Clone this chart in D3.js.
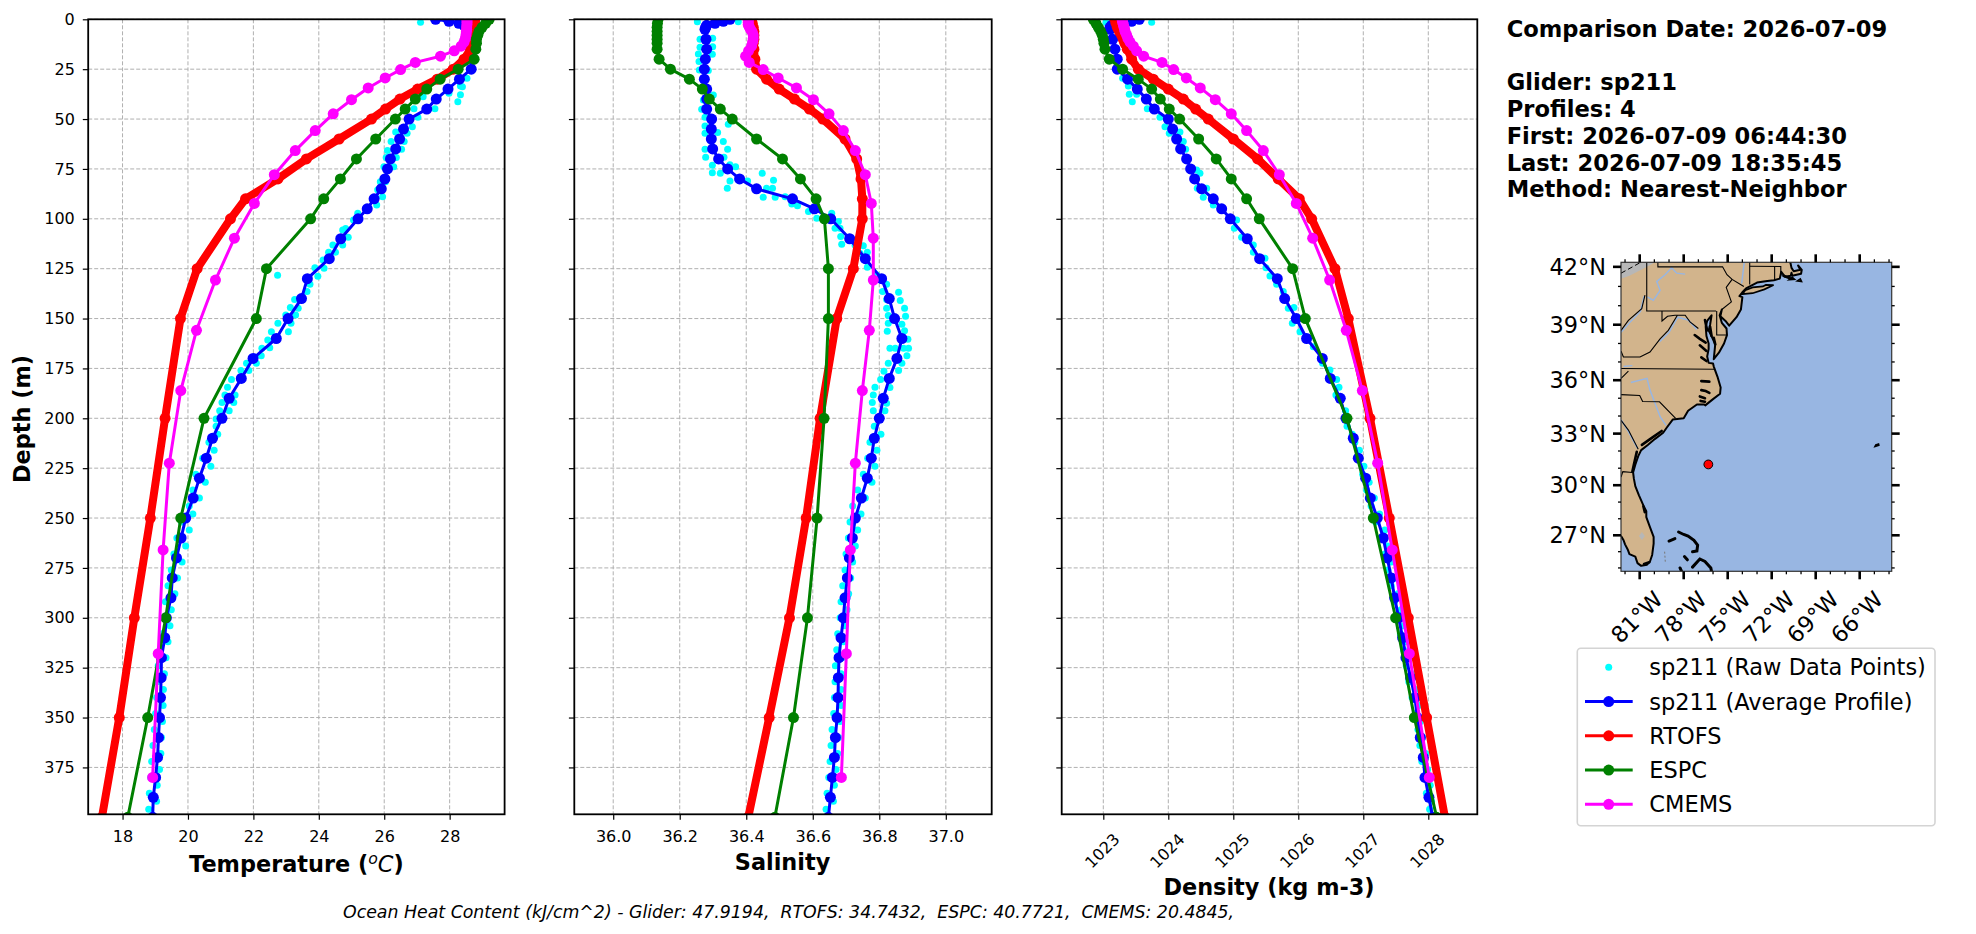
<!DOCTYPE html>
<html>
<head>
<meta charset="utf-8">
<script src="https://cdn.jsdelivr.net/npm/d3@7"></script>
<style>
  html, body { margin: 0; padding: 0; background: #fff; }
  svg { display: block; }
  text { font-family: "DejaVu Sans", sans-serif; fill: #000; }
</style>
</head>
<body>
<div id="chart"></div>
<script>
// Glider average profile
const depthGlider = [0,1,2,3,4,5,10,15,20,25,30,35,40,45,50,55,60,65,70,75,80,85,90,95,100,110,120,130,140,150,160,170,180,190,200,210,220,230,240,250,260,270,280,290,300,310,320,330,340,350,360,370,380,390,400];
const tempGlider = [27.57,27.98,28.28,28.44,28.55,28.66,28.77,28.77,28.71,28.66,28.30,27.95,27.59,27.30,26.76,26.59,26.47,26.35,26.19,26.10,26.02,25.91,25.69,25.48,25.20,24.67,24.32,23.65,23.47,23.06,22.70,21.99,21.63,21.26,21.04,20.75,20.56,20.35,20.16,19.93,19.79,19.65,19.52,19.48,19.34,19.29,19.19,19.18,19.16,19.13,19.10,19.07,19.01,18.94,18.92];
const salGlider = [36.351,36.331,36.306,36.281,36.278,36.276,36.279,36.281,36.277,36.274,36.274,36.281,36.281,36.281,36.296,36.295,36.295,36.299,36.317,36.344,36.380,36.431,36.539,36.605,36.654,36.711,36.758,36.807,36.830,36.846,36.868,36.853,36.830,36.812,36.800,36.785,36.776,36.764,36.746,36.728,36.719,36.710,36.704,36.697,36.692,36.685,36.679,36.677,36.676,36.673,36.668,36.665,36.659,36.653,36.647];
const densGlider = [1023.554,1023.436,1023.256,1023.128,1023.103,1023.103,1023.144,1023.179,1023.215,1023.215,1023.374,1023.523,1023.662,1023.785,1024.0,1024.067,1024.128,1024.19,1024.282,1024.344,1024.405,1024.513,1024.692,1024.821,1024.954,1025.215,1025.405,1025.677,1025.79,1025.969,1026.128,1026.369,1026.492,1026.646,1026.733,1026.846,1026.923,1027.036,1027.108,1027.215,1027.308,1027.369,1027.431,1027.482,1027.544,1027.605,1027.656,1027.728,1027.795,1027.831,1027.877,1027.923,1027.949,1028.01,1028.067];

// RTOFS and ESPC share standard levels
const depthModel = [0,2,4,6,8,10,12,15,20,25,30,35,40,45,50,60,70,80,90,100,125,150,200,250,300,350,400];
const tempRtofs = [28.77,28.77,28.76,28.75,28.73,28.71,28.68,28.64,28.44,28.11,27.62,27.02,26.48,26.04,25.61,24.62,23.62,22.75,21.76,21.30,20.28,19.77,19.30,18.85,18.36,17.90,17.37];
const salRtofs = [36.416,36.418,36.421,36.423,36.423,36.423,36.421,36.423,36.426,36.431,36.461,36.499,36.545,36.590,36.630,36.697,36.732,36.745,36.749,36.749,36.722,36.672,36.622,36.580,36.530,36.469,36.406];
const densRtofs = [1023.179,1023.195,1023.215,1023.246,1023.282,1023.308,1023.333,1023.369,1023.436,1023.538,1023.769,1024.0,1024.231,1024.421,1024.615,1025.0,1025.374,1025.692,1026.015,1026.205,1026.564,1026.769,1027.103,1027.4,1027.692,1027.974,1028.256];
const tempEspc = [29.21,29.10,28.99,28.90,28.86,28.82,28.82,28.80,28.75,28.26,27.71,27.30,26.95,26.64,26.34,25.74,25.15,24.66,24.15,23.75,22.40,22.09,20.49,19.78,19.32,18.77,18.16];
const salEspc = [36.135,36.133,36.132,36.132,36.132,36.132,36.132,36.132,36.138,36.172,36.229,36.268,36.289,36.322,36.358,36.431,36.509,36.563,36.610,36.635,36.647,36.647,36.634,36.613,36.584,36.542,36.486];
const densEspc = [1022.846,1022.887,1022.923,1022.959,1022.985,1023.0,1023.01,1023.026,1023.092,1023.297,1023.538,1023.744,1023.877,1024.015,1024.174,1024.467,1024.738,1024.969,1025.205,1025.4,1025.913,1026.108,1026.749,1027.154,1027.497,1027.785,1028.128];

// CMEMS levels
const depthCmems = [0.5,1.5,2.6,3.8,5.1,6.4,7.9,9.6,11.4,13.5,15.8,18.5,21.6,25.2,29.4,34.4,40.3,47.4,55.8,65.8,77.9,92.3,109.7,130.7,155.9,186.1,222.5,266,318,380];
const tempCmems = [28.53,28.53,28.53,28.52,28.52,28.51,28.50,28.48,28.44,28.35,28.14,27.72,26.95,26.50,26.03,25.51,25.00,24.44,23.89,23.28,22.64,22.03,21.42,20.84,20.26,19.78,19.43,19.24,19.09,18.92];
const salCmems = [36.406,36.406,36.406,36.409,36.413,36.418,36.421,36.421,36.419,36.416,36.407,36.398,36.409,36.451,36.496,36.551,36.602,36.649,36.692,36.728,36.758,36.776,36.782,36.782,36.770,36.749,36.728,36.713,36.701,36.686];
const densCmems = [1023.292,1023.297,1023.308,1023.318,1023.328,1023.338,1023.359,1023.379,1023.41,1023.462,1023.513,1023.621,1023.903,1024.082,1024.277,1024.492,1024.723,1024.969,1025.205,1025.462,1025.708,1025.969,1026.221,1026.482,1026.738,1026.985,1027.221,1027.446,1027.708,1028.015];

// Raw glider samples, [depth, value], upper 200 m
const rawTempTop = [[1.5,27.11],[29.6,28.53],[33.4,28.33],[33.8,28.39],[37.1,27.98],[37.8,28.33],[41.3,28.25],[38.8,27.19],[44.9,27.55],[44.9,26.91],[49.1,27.03],[53.8,26.86],[56.5,26.35],[57.1,26.70],[61.2,26.21],[61.2,26.61],[65.8,26.10],[65.2,26.53],[69.3,26.06],[69.3,26.37],[73.9,25.99],[73.9,26.29],[81.4,25.88],[81.4,26.04],[85.5,25.80],[88.9,25.95],[89.7,25.74],[93.1,25.77],[97.2,25.19],[100.6,25.06],[104.9,24.82],[105.6,24.73],[109.3,24.90],[113.1,24.43],[113.1,24.73],[116.8,24.30],[116.8,24.51],[120.6,24.13],[124.5,23.88],[124.8,24.16],[128.3,22.74],[128.8,23.97],[132.8,23.73],[136.5,23.64],[140.4,23.26],[144.4,23.13],[144.9,23.37],[148.2,22.99],[148.2,23.29],[152.4,22.75],[152.4,23.15],[156.6,22.55],[156.6,23.07],[160.7,22.44],[164.9,22.26],[164.6,22.50],[168.6,22.24],[172.4,21.79],[172.4,22.09],[176.1,21.62],[176.1,21.86],[180.5,21.33],[184.5,21.21],[188.3,21.13],[188.3,21.44],[192.1,21.04],[192.1,21.40],[196.2,20.97],[196.2,21.26],[200.3,20.86]];
const rawSalTop = [[1.2,36.253],[1.2,36.376],[9.5,36.299],[10,36.261],[14,36.261],[13.7,36.299],[17.5,36.298],[17.4,36.256],[21.2,36.258],[25.4,36.259],[25.7,36.286],[37.9,36.301],[40.4,36.271],[45.1,36.266],[49.1,36.276],[52.6,36.346],[53.5,36.276],[56.8,36.314],[57.1,36.276],[61.2,36.331],[65.2,36.344],[65.2,36.276],[69.2,36.278],[69.2,36.333],[73.2,36.298],[72.9,36.351],[73.9,36.368],[76.9,36.298],[77.2,36.322],[77.2,36.448],[81,36.351],[81,36.404],[80.7,36.482],[84.7,36.343],[84.7,36.461],[84.7,36.479],[89.2,36.451],[89.2,36.487],[88.9,36.517],[92.6,36.537],[93.4,36.554],[96.4,36.587],[99.7,36.612],[97.2,36.657],[101.4,36.677],[104.8,36.667],[104.8,36.682],[108.9,36.684],[112.8,36.687],[113.1,36.727],[113.5,36.752],[117.3,36.742],[116.8,36.764],[124.3,36.764],[128.2,36.792],[132.8,36.822],[136.5,36.810],[136.8,36.858],[140.4,36.822],[140.9,36.863],[144.9,36.822],[144.9,36.876],[148.5,36.827],[148.9,36.879],[152.4,36.827],[152.9,36.868],[156.4,36.824],[156.1,36.876],[160.4,36.886],[164.9,36.832],[164.9,36.848],[164.9,36.873],[164.9,36.888],[168.6,36.883],[172.4,36.827],[172.4,36.868],[176.4,36.814],[176.1,36.858],[180.5,36.804],[184.5,36.787],[184.6,36.832],[188.3,36.782],[192.1,36.779],[192.5,36.822],[196.2,36.782],[196.2,36.817]];
const rawDensTop = [[1.5,1023.744],[1.5,1023.041],[29.6,1023.297],[33.4,1023.385],[37.6,1023.4],[37.6,1023.513],[41.3,1023.446],[44.9,1023.677],[49.1,1023.872],[53.8,1023.949],[57.1,1024.015],[56.5,1024.179],[61.2,1024.231],[65.2,1024.267],[75.5,1024.436],[77.2,1024.487],[84.7,1024.446],[84.7,1024.590],[89.2,1024.538],[93.1,1024.692],[100.6,1025.051],[104.8,1025.015],[109.3,1025.128],[113.1,1025.308],[116.8,1025.308],[119.8,1025.487],[124.5,1025.503],[128.7,1025.564],[132.8,1025.667],[136.5,1025.769],[144.4,1025.933],[144.9,1025.846],[152.4,1025.908],[156.6,1026.026],[164.1,1026.231],[172.4,1026.374],[175.8,1026.487],[180.5,1026.590],[184.5,1026.626],[188.3,1026.579],[196.2,1026.728]];

// Raw glider samples below 200 m
const rawDepthDeep = [204,208,212,216,220,224,228,232,236,240,244,248,252,256,260,264,268,272,276,280,284,288,292,296,300,304,308,312,316,320,324,328,332,336,340,344,348,352,356,360,364,368,372,376,380,384,388,392,396];
const rawTempDeep = [20.86,20.91,20.64,20.80,20.45,20.70,20.24,20.53,20.15,20.35,20.04,20.15,19.80,20.04,19.66,19.93,19.57,19.82,19.49,19.68,19.39,19.60,19.31,19.49,19.28,19.45,19.19,19.39,19.15,19.33,19.09,19.28,19.06,19.25,19.04,19.24,19.01,19.22,18.97,19.19,18.93,19.17,18.89,19.13,18.86,19.06,18.82,19.04,18.80];
const rawSalDeep = [36.785,36.805,36.772,36.793,36.765,36.787,36.752,36.778,36.735,36.758,36.720,36.745,36.712,36.735,36.707,36.728,36.700,36.720,36.697,36.714,36.690,36.708,36.685,36.703,36.682,36.697,36.675,36.693,36.672,36.688,36.668,36.685,36.667,36.685,36.665,36.685,36.663,36.682,36.658,36.678,36.655,36.675,36.652,36.670,36.648,36.665,36.643,36.662,36.640];
const rawDensDeep = [1026.75,1026.83,1026.87,1026.94,1026.91,1027.01,1026.99,1027.09,1027.05,1027.17,1027.12,1027.25,1027.19,1027.33,1027.27,1027.37,1027.33,1027.43,1027.38,1027.49,1027.43,1027.53,1027.48,1027.58,1027.52,1027.61,1027.57,1027.66,1027.62,1027.70,1027.66,1027.75,1027.70,1027.80,1027.75,1027.85,1027.80,1027.88,1027.84,1027.91,1027.87,1027.96,1027.90,1027.99,1027.93,1028.03,1027.97,1028.05,1028.02];

// Axis ticks
const depthTicks = [0,25,50,75,100,125,150,175,200,225,250,275,300,325,350,375];
const tempTicks = [18,20,22,24,26,28];
const salTicks = [36.0,36.2,36.4,36.6,36.8,37.0];
const densTicks = [1023,1024,1025,1026,1027,1028];

// Text
const legendLabels = ["sp211 (Raw Data Points)","sp211 (Average Profile)","RTOFS","ESPC","CMEMS"];
const infoLines = ["Comparison Date: 2026-07-09","","Glider: sp211","Profiles: 4","First: 2026-07-09 06:44:30","Last: 2026-07-09 18:35:45","Method: Nearest-Neighbor"];
const footerText = "Ocean Heat Content (kJ/cm^2) - Glider: 47.9194,  RTOFS: 34.7432,  ESPC: 40.7721,  CMEMS: 20.4845,";

// Map geography, lon/lat
const lonTicks = [-81,-78,-75,-72,-69,-66];
const latTicks = [27,30,33,36,39,42];
const gliderPos = [-76.32,31.22];
const coast = [[-83,27.0],[-82.27,26.95],[-82.1,26.7],[-82.0,26.45],[-81.8,26.1],[-81.7,25.85],[-81.3,25.7],[-81.15,25.3],[-80.9,25.13],[-80.5,25.2],[-80.3,25.4],[-80.15,25.8],[-80.05,26.5],[-80.05,26.9],[-80.3,27.5],[-80.55,28.1],[-80.55,28.45],[-80.75,28.8],[-81.05,29.4],[-81.3,29.95],[-81.4,30.4],[-81.45,30.75],[-81.3,31.2],[-81.1,31.7],[-80.9,32.05],[-80.45,32.35],[-79.95,32.7],[-79.4,33.05],[-79.15,33.35],[-78.75,33.8],[-78.0,33.88],[-77.7,34.3],[-77.1,34.65],[-76.6,34.65],[-76.53,34.6],[-76.0,34.95],[-75.52,35.25],[-75.48,35.6],[-75.7,36.2],[-75.95,36.75],[-76.0,36.92],[-76.3,36.95],[-76.4,37.3],[-76.3,37.7],[-76.3,38.0],[-76.45,38.4],[-76.5,38.9],[-76.4,39.2],[-76.1,39.5],[-76.2,39.0],[-76.3,38.7],[-76.05,38.3],[-75.85,37.95],[-75.95,37.15],[-75.6,37.5],[-75.25,38.0],[-75.05,38.45],[-75.08,38.8],[-75.4,39.1],[-75.55,39.5],[-75.4,39.8],[-75.5,39.45],[-75.15,39.2],[-74.9,38.95],[-74.4,39.4],[-74.1,39.8],[-74.0,40.45],[-74.2,40.5],[-74.0,40.7],[-73.75,40.9],[-73.0,41.2],[-72.3,41.28],[-71.85,41.32],[-71.45,41.4],[-71.35,41.75],[-71.1,41.5],[-70.7,41.55],[-70.65,41.7],[-70.6,41.55],[-70.0,41.65],[-69.95,41.85],[-70.2,42.07],[-70.05,41.85],[-70.5,41.78],[-70.65,41.95],[-70.75,42.3],[-83,42.3]];
const longIsland = [[-74.0,40.6],[-73.3,40.65],[-72.5,40.85],[-71.87,41.07],[-72.4,41.08],[-72.6,41.0],[-73.3,40.95],[-73.8,40.8]];
const vineyard = [[-70.8,41.35],[-70.45,41.37],[-70.6,41.47]];
const nantucket = [[-70.25,41.28],[-69.97,41.25],[-70.05,41.38]];
const bermuda = [[-64.95,32.27],[-64.7,32.33],[-64.72,32.4],[-64.9,32.35]];
const lakeErie = [[-83,42.3],[-79.8,42.3],[-80.5,42.0],[-81.7,41.55],[-83,41.2]];
const okeechobee = [[-80.85,27.2],[-80.65,26.95],[-80.85,26.72],[-81.05,26.95]];
const canadaLine = [[-82.27,41.68],[-81.0,42.2]];
const stateLines = [
  [[-80.52,42.3],[-80.52,39.72],[-75.79,39.72]],
  [[-79.76,42.3],[-79.76,42.0],[-75.35,42.0],[-75.05,41.6],[-74.7,41.36],[-73.9,41.0]],
  [[-74.7,41.36],[-75.1,40.95],[-74.75,40.2],[-75.4,39.8]],
  [[-73.5,42.3],[-73.5,41.1]],[[-73.5,42.03],[-71.38,42.02],[-71.38,41.55]],[[-71.8,42.03],[-71.8,41.32]],
  [[-75.75,39.72],[-75.75,38.45],[-75.05,38.45]],
  [[-79.48,39.72],[-79.48,39.2],[-79.1,39.45],[-78.6,39.5],[-77.9,39.5],[-77.57,39.15],[-77.0,38.8]],
  [[-82.27,37.59],[-82.11,37.27],[-80.98,37.27],[-80.3,37.54],[-79.61,38.25],[-79.05,38.7],[-78.43,39.5]],
  [[-82.27,38.7],[-81.77,39.23],[-80.86,39.85],[-80.64,40.55]],
  [[-82.27,36.64],[-75.87,36.6]],[[-82.27,36.1],[-81.77,36.5]],
  [[-82.27,35.2],[-81.0,35.15],[-80.8,34.82],[-79.65,34.8],[-78.55,33.86]],
  [[-82.27,33.75],[-81.77,33.2],[-81.1,32.1]],
  [[-82.27,30.48],[-82.15,30.8],[-81.5,30.75]]
];
const rivers = [
  [[-77.9,41.63],[-78.48,41.68],[-78.82,41.95],[-79.27,41.6],[-79.84,41.25],[-79.61,40.8],[-80.07,40.28],[-80.48,40.46]],
  [[-73.86,42.3],[-74.05,41.16]],
  [[-82.27,38.6],[-81.7,39.1],[-80.95,39.7],[-80.7,40.5]],
  [[-79.65,38.1],[-79.0,38.6],[-78.4,39.4],[-77.7,39.25],[-77.1,38.75]],
  [[-81.6,35.87],[-80.5,36.1],[-80.3,35.45],[-79.95,34.7],[-79.6,33.95],[-79.2,33.47]],
  [[-82.27,33.8],[-81.8,33.15],[-81.15,32.15]],
  [[-82.1,36.75],[-81.5,36.8]]
];
const inlets = [
  [[-77.25,38.45],[-76.9,38.25],[-76.5,38.05]],[[-76.9,37.9],[-76.45,37.6]],[[-76.8,37.25],[-76.45,37.05]],
  [[-76.55,39.25],[-76.4,38.7]],[[-76.2,38.9],[-76.1,38.4]],[[-75.95,38.3],[-75.85,37.95]],
  [[-76.8,35.95],[-76.25,35.92]],[[-76.8,35.45],[-76.5,35.4],[-76.25,35.3]],[[-76.9,35.1],[-76.55,35.0]],[[-76.85,34.85],[-76.55,34.8]],
  [[-71.2,41.55],[-70.75,41.42]],
  [[-81.2,31.95],[-81.4,31.2],[-81.5,30.8]],[[-80.85,32.35],[-80.1,32.8],[-79.5,33.15]],[[-80.75,28.75],[-80.65,28.4]],[[-80.7,25.25],[-80.35,25.35]]
];
const bahamas = [
  [[-79.0,26.65],[-78.6,26.8]],
  [[-78.35,27.2],[-78.0,27.05],[-77.7,26.95],[-77.3,26.7],[-77.05,26.4],[-77.1,26.05],[-77.4,26.0]],
  [[-78.25,25.0],[-78.15,24.8]],[[-77.95,25.7],[-77.75,25.5]],
  [[-77.4,25.05],[-76.9,25.55],[-76.55,25.4],[-76.15,25.0],[-76.1,24.77]]
];
const bimini = [[-79.3,26.0],[-79.25,25.3]];

const width = 1976;
const height = 934;
const plotTop = 19.3;
const plotBottom = 814.3;

const svg = d3.select("#chart").append("svg")
    .attr("width", width)
    .attr("height", height)
    .style("background", "#fff");

const yScale = d3.scaleLinear().domain([0, 398.5]).range([plotTop, plotBottom]);

// One profile panel
function drawPanel(id, left, right, domain, ticks, format, series, rawTop, rawDeep, showDepth, rotate) {
    const xScale = d3.scaleLinear().domain(domain).range([left, right]);
    const g = svg.append("g").attr("id", id);

    g.append("clipPath").attr("id", "clip-" + id)
        .append("rect")
        .attr("x", left).attr("y", plotTop)
        .attr("width", right - left).attr("height", plotBottom - plotTop);

    // grid
    g.selectAll(".gridx").data(ticks).enter().append("line")
        .attr("x1", function(d) { return xScale(d); })
        .attr("x2", function(d) { return xScale(d); })
        .attr("y1", plotTop).attr("y2", plotBottom)
        .attr("stroke", "#b0b0b0").attr("stroke-width", 1).attr("stroke-dasharray", "4,2");
    g.selectAll(".gridy").data(depthTicks).enter().append("line")
        .attr("y1", function(d) { return yScale(d); })
        .attr("y2", function(d) { return yScale(d); })
        .attr("x1", left).attr("x2", right)
        .attr("stroke", "#b0b0b0").attr("stroke-width", 1).attr("stroke-dasharray", "4,2");

    const plot = g.append("g").attr("clip-path", "url(#clip-" + id + ")");

    let raw = rawTop.concat(rawDepthDeep.map(function(d, i) { return [d, rawDeep[i]]; }));
    plot.selectAll(".raw").data(raw).enter().append("circle")
        .attr("cx", function(d) { return xScale(d[1]); })
        .attr("cy", function(d) { return yScale(d[0]); })
        .attr("r", 3.5)
        .attr("fill", "#00ffff");

    series.forEach(function(s) {
        let pts = s.depth.map(function(d, i) { return [d, s.values[i]]; });
        plot.append("path").datum(pts)
            .attr("fill", "none")
            .attr("stroke", s.color)
            .attr("stroke-width", s.lw)
            .attr("stroke-linejoin", "round")
            .attr("d", d3.line()
                .x(function(d) { return xScale(d[1]); })
                .y(function(d) { return yScale(d[0]); }));
        plot.selectAll(".m").data(pts).enter().append("circle")
            .attr("cx", function(d) { return xScale(d[1]); })
            .attr("cy", function(d) { return yScale(d[0]); })
            .attr("r", 5.5)
            .attr("fill", s.color);
    });

    // axes
    const xAxis = g.append("g")
        .attr("transform", "translate(0," + plotBottom + ")")
        .call(d3.axisBottom(xScale).tickValues(ticks).tickFormat(format).tickSize(5.4).tickPadding(10.8));
    const yAxis = g.append("g")
        .attr("transform", "translate(" + left + ",0)")
        .call(d3.axisLeft(yScale).tickValues(depthTicks).tickSize(5.4).tickPadding(8));
    if (!showDepth) yAxis.selectAll("text").remove();

    [xAxis, yAxis].forEach(function(a) {
        a.select(".domain").remove();
        a.selectAll("line").attr("stroke", "#000").attr("stroke-width", 1.2);
        a.selectAll("text").style("font-size", "16px").style("font-family", "DejaVu Sans");
    });

    if (rotate) {
        xAxis.selectAll("text")
            .attr("text-anchor", "middle")
            .attr("dy", "0.35em")
            .attr("x", 0).attr("y", 0)
            .attr("transform", "translate(-1.5,36.5) rotate(-45)");
    }

    g.append("rect")
        .attr("x", left).attr("y", plotTop)
        .attr("width", right - left).attr("height", plotBottom - plotTop)
        .attr("fill", "none").attr("stroke", "#000").attr("stroke-width", 1.8);
}

function seriesFor(glider, rtofs, espc, cmems) {
    return [
        {depth: depthGlider, values: glider, color: "#0000ff", lw: 3},
        {depth: depthModel, values: rtofs, color: "#ff0000", lw: 8},
        {depth: depthModel, values: espc, color: "#008000", lw: 3},
        {depth: depthCmems, values: cmems, color: "#ff00ff", lw: 3}
    ];
}

drawPanel("temp", 88.2, 504.6, [16.95, 29.68], tempTicks, d3.format("d"),
    seriesFor(tempGlider, tempRtofs, tempEspc, tempCmems), rawTempTop, rawTempDeep, true, false);
drawPanel("sal", 574.3, 991.7, [35.883, 37.138], salTicks, d3.format(".1f"),
    seriesFor(salGlider, salRtofs, salEspc, salCmems), rawSalTop, rawSalDeep, false, false);
drawPanel("dens", 1061.7, 1477.3, [1022.36, 1028.754], densTicks, d3.format("d"),
    seriesFor(densGlider, densRtofs, densEspc, densCmems), rawDensTop, rawDensDeep, false, true);

// Axis titles
const labelSize = "22.4px";
const tempLabel = svg.append("text")
    .attr("x", 296.4).attr("y", 872)
    .attr("text-anchor", "middle")
    .style("font-size", labelSize).style("font-weight", "bold");
tempLabel.append("tspan").text("Temperature (");
tempLabel.append("tspan").text("o").attr("dy", -8).style("font-style", "italic").style("font-weight", "normal").style("font-size", "15.7px");
tempLabel.append("tspan").text("C").attr("dy", 8).style("font-style", "italic").style("font-weight", "normal");
tempLabel.append("tspan").text(")");

svg.append("text").attr("x", 782.5).attr("y", 870).attr("text-anchor", "middle")
    .style("font-size", labelSize).style("font-weight", "bold").text("Salinity");
svg.append("text").attr("x", 1269).attr("y", 895).attr("text-anchor", "middle")
    .style("font-size", labelSize).style("font-weight", "bold").text("Density (kg m-3)");
svg.append("text").attr("transform", "translate(29.5,419) rotate(-90)").attr("text-anchor", "middle")
    .style("font-size", labelSize).style("font-weight", "bold").text("Depth (m)");

svg.append("text").attr("x", 343).attr("y", 918)
    .attr("xml:space", "preserve")
    .style("white-space", "pre")
    .style("font-size", "17.35px").style("font-style", "italic").text(footerText);

// Info block
svg.selectAll(".info").data(infoLines).enter().append("text")
    .attr("x", 1506.7)
    .attr("y", function(d, i) { return 37 + i * 26.7; })
    .style("font-size", "22.6px").style("font-weight", "bold")
    .text(function(d) { return d; });

// Map
const mapLeft = 1621, mapRight = 1891.7, mapTop = 262.3, mapBottom = 571.3;
const projection = d3.geoMercator()
    .scale(14.667 * 180 / Math.PI)
    .center([-81, 27])
    .translate([1639.7, 535.3]);
const geoLine = d3.line()
    .x(function(d) { return projection(d)[0]; })
    .y(function(d) { return projection(d)[1]; });

const map = svg.append("g").attr("id", "map");
map.append("clipPath").attr("id", "clip-map").append("rect")
    .attr("x", mapLeft).attr("y", mapTop)
    .attr("width", mapRight - mapLeft).attr("height", mapBottom - mapTop);
const mapPlot = map.append("g").attr("clip-path", "url(#clip-map)");

mapPlot.append("rect")
    .attr("x", mapLeft).attr("y", mapTop)
    .attr("width", mapRight - mapLeft).attr("height", mapBottom - mapTop)
    .attr("fill", "#98b6e2");
mapPlot.append("path").attr("d", geoLine(coast) + "Z").attr("fill", "#d2b48c");
mapPlot.append("path").attr("d", geoLine(lakeErie) + "Z").attr("fill", "#b7b7b7");
mapPlot.append("path").attr("d", geoLine(okeechobee) + "Z").attr("fill", "#b7b7b7");
mapPlot.append("path").attr("d", geoLine(canadaLine)).attr("fill", "none")
    .attr("stroke", "#000").attr("stroke-width", 1).attr("stroke-dasharray", "5,3");

rivers.forEach(function(r) {
    mapPlot.append("path").attr("d", geoLine(r)).attr("fill", "none")
        .attr("stroke", "#98b6e2").attr("stroke-width", 1.5);
});
stateLines.forEach(function(r) {
    mapPlot.append("path").attr("d", geoLine(r)).attr("fill", "none")
        .attr("stroke", "#000").attr("stroke-width", 1.1);
});
mapPlot.append("path").attr("d", geoLine(coast)).attr("fill", "none")
    .attr("stroke", "#000").attr("stroke-width", 2).attr("stroke-linejoin", "round");
[longIsland, vineyard, nantucket, bermuda].forEach(function(r) {
    mapPlot.append("path").attr("d", geoLine(r) + "Z").attr("fill", "#d2b48c")
        .attr("stroke", "#000").attr("stroke-width", 1.7);
});
inlets.forEach(function(r) {
    mapPlot.append("path").attr("d", geoLine(r)).attr("fill", "none")
        .attr("stroke", "#000").attr("stroke-width", 2.6).attr("stroke-linecap", "round");
});
bahamas.forEach(function(r) {
    mapPlot.append("path").attr("d", geoLine(r)).attr("fill", "none")
        .attr("stroke", "#000").attr("stroke-width", 3).attr("stroke-linecap", "round");
});
mapPlot.append("path").attr("d", geoLine(bimini)).attr("fill", "none")
    .attr("stroke", "#777").attr("stroke-width", 1).attr("stroke-dasharray", "2,2");

map.append("circle")
    .attr("cx", projection(gliderPos)[0]).attr("cy", projection(gliderPos)[1])
    .attr("r", 4.4).attr("fill", "#ff0000").attr("stroke", "#000").attr("stroke-width", 1);

map.append("rect")
    .attr("x", mapLeft).attr("y", mapTop)
    .attr("width", mapRight - mapLeft).attr("height", mapBottom - mapTop)
    .attr("fill", "none").attr("stroke", "#333").attr("stroke-width", 1.2);

// Map ticks
const lonMinor = d3.range(-82, -63).filter(function(d) { return lonTicks.indexOf(d) < 0; });
const latMinor = d3.range(25, 43).filter(function(d) { return latTicks.indexOf(d) < 0; });
function mapTicks(values, len, lw) {
    values.lon.forEach(function(d) {
        let x = projection([d, 30])[0];
        map.append("line").attr("x1", x).attr("x2", x).attr("y1", mapTop).attr("y2", mapTop - len)
            .attr("stroke", "#000").attr("stroke-width", lw);
        map.append("line").attr("x1", x).attr("x2", x).attr("y1", mapBottom).attr("y2", mapBottom + len)
            .attr("stroke", "#000").attr("stroke-width", lw);
    });
    values.lat.forEach(function(d) {
        let y = projection([-70, d])[1];
        map.append("line").attr("y1", y).attr("y2", y).attr("x1", mapLeft).attr("x2", mapLeft - len)
            .attr("stroke", "#000").attr("stroke-width", lw);
        map.append("line").attr("y1", y).attr("y2", y).attr("x1", mapRight).attr("x2", mapRight + len)
            .attr("stroke", "#000").attr("stroke-width", lw);
    });
}
mapTicks({lon: lonTicks, lat: latTicks}, 8, 2.6);
mapTicks({lon: lonMinor, lat: latMinor}, 3, 1.3);

map.selectAll(".latlab").data(latTicks).enter().append("text")
    .attr("x", 1606)
    .attr("y", function(d) { return projection([-70, d])[1]; })
    .attr("dy", "0.36em")
    .attr("text-anchor", "end")
    .style("font-size", "22.4px")
    .text(function(d) { return d + "°N"; });
map.selectAll(".lonlab").data(lonTicks).enter().append("text")
    .attr("text-anchor", "middle")
    .attr("dy", "0.36em")
    .attr("transform", function(d) {
        return "translate(" + (projection([d, 30])[0] - 3) + ",617) rotate(-45)";
    })
    .style("font-size", "22.4px")
    .text(function(d) { return Math.abs(d) + "°W"; });

// Legend
const legendColors = ["#00ffff", "#0000ff", "#ff0000", "#008000", "#ff00ff"];
const legendY = d3.scalePoint().domain(legendLabels).range([667.3, 804.3]);
const legend = svg.append("g").attr("id", "legend");
legend.append("rect")
    .attr("x", 1577.3).attr("y", 648.3)
    .attr("width", 357.7).attr("height", 177.4).attr("rx", 3.5)
    .attr("fill", "#fff").attr("stroke", "#d4d4d4").attr("stroke-width", 1.6);
legendLabels.forEach(function(d, i) {
    let y = legendY(d);
    if (i > 0) {
        legend.append("line").attr("x1", 1585).attr("x2", 1632.7).attr("y1", y).attr("y2", y)
            .attr("stroke", legendColors[i]).attr("stroke-width", 3);
    }
    legend.append("circle").attr("cx", 1608.7).attr("cy", y)
        .attr("r", i === 0 ? 3.5 : 5.5).attr("fill", legendColors[i]);
    legend.append("text").attr("x", 1649.3).attr("y", y).attr("dy", "0.36em")
        .style("font-size", "22.5px").text(d);
});
</script>
</body>
</html>
